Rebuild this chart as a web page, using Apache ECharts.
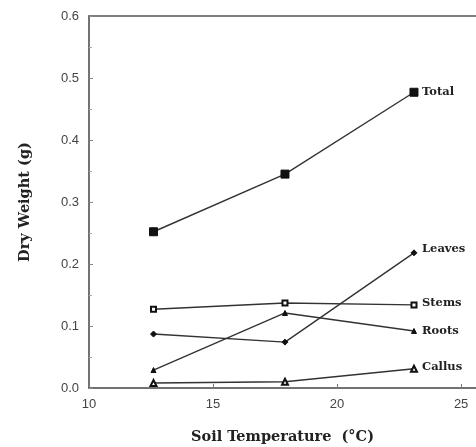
<!DOCTYPE html>
<html><head><meta charset="utf-8">
<script src="https://cdn.jsdelivr.net/npm/echarts@6/dist/echarts.min.js"></script>
<style>html,body{margin:0;padding:0;background:#fff}#c{width:476px;height:447px}</style>
</head><body><div id="c"></div>
<script>
const temps = [12.6, 17.9, 23.1];
const total = [0.252, 0.345, 0.477];
const leaves = [0.087, 0.074, 0.218];
const stems = [0.127, 0.137, 0.134];
const roots = [0.029, 0.121, 0.092];
const callus = [0.008, 0.010, 0.031];
const xTicks = [10, 15, 20, 25];

const pair = v => temps.map((t, i) => [t, v[i]]);
const lineCol = '#333';
function mk(name, vals, symbol, size, dy) {
  return {
    name, type: 'line', data: pair(vals), symbol, symbolSize: size,
    lineStyle: {color: lineCol, width: 1.4},
    itemStyle: {color: '#111', borderColor: '#111', borderWidth: 1},
    endLabel: {show: true, formatter: '{a}', distance: 8, offset: [0, dy],
      fontFamily: 'DejaVu Serif', fontWeight: 'bold', fontSize: 11.5, color: '#222'},
    animation: false, z: 3
  };
}
const chart = echarts.init(document.getElementById('c'));
chart.setOption({
  animation: false,
  grid: {left: 89, top: 16, right: 0, bottom: 59, outerBoundsMode: 'none', containLabel: false},
  xAxis: [{
    type: 'value', min: 10, max: 25.6,
    axisLine: {show: true, lineStyle: {color: '#444', width: 1.5}},
    axisTick: {show: true, inside: true, length: 4, customValues: xTicks, lineStyle: {color: '#777'}},
    axisLabel: {customValues: xTicks, fontFamily: 'Liberation Sans', fontSize: 13, color: '#444', margin: 10},
    splitLine: {show: false},
    name: 'Soil Temperature  (°C)', nameLocation: 'middle', nameGap: 42,
    nameTextStyle: {fontFamily: 'DejaVu Serif', fontWeight: 'bold', fontSize: 14.5, color: '#222'}
  }, {
    type: 'value', position: 'top', min: 10, max: 25.6,
    axisLine: {show: true, lineStyle: {color: '#555', width: 1.5}},
    axisTick: {show: false}, axisLabel: {show: false}, splitLine: {show: false}
  }],
  yAxis: {
    type: 'value', min: 0, max: 0.6, interval: 0.1,
    axisLine: {show: true, lineStyle: {color: '#444', width: 1.5}},
    axisTick: {show: true, inside: true, length: 4, lineStyle: {color: '#888'}},
    minorTick: {show: true, splitNumber: 2, length: 3, lineStyle: {color: '#aaa'}},
    axisLabel: {formatter: v => v.toFixed(1), fontFamily: 'Liberation Sans', fontSize: 13, color: '#444', margin: 10},
    splitLine: {show: false},
    name: 'Dry Weight (g)', nameLocation: 'middle', nameGap: 56, nameRotate: 90,
    nameTextStyle: {fontFamily: 'DejaVu Serif', fontWeight: 'bold', fontSize: 14.5, color: '#222'}
  },
  series: [
    mk('Total', total, 'rect', 8, 0),
    mk('Leaves', leaves, 'diamond', 6, -4),
    mk('Stems', stems, 'emptyRect', 5, -2),
    mk('Roots', roots, 'triangle', 5, 0),
    mk('Callus', callus, 'emptyTriangle', 6, -2)
  ]
});
</script></body></html>
